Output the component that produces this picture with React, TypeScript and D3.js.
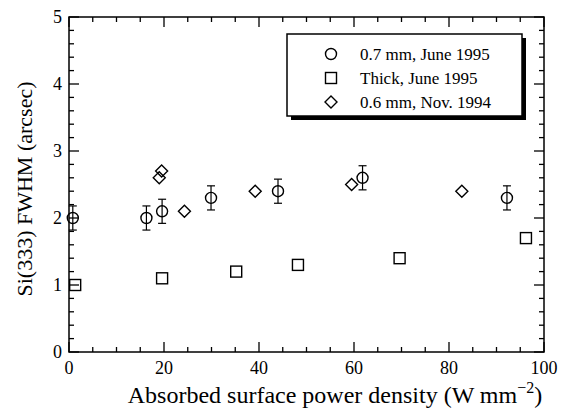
import React from "react";
import * as d3 from "d3";

const circleX = [0.8, 16.3, 19.6, 29.9, 44.0, 61.8, 92.2];
const circleY = [2.0, 2.0, 2.1, 2.3, 2.4, 2.6, 2.3];
const circleErr = [0.18, 0.18, 0.18, 0.18, 0.18, 0.18, 0.18];
const squareX = [1.3, 19.6, 35.2, 48.2, 69.6, 96.2];
const squareY = [1.0, 1.1, 1.2, 1.3, 1.4, 1.7];
const diamondX = [19.0, 19.5, 24.3, 39.2, 59.5, 82.7];
const diamondY = [2.6, 2.7, 2.1, 2.4, 2.5, 2.4];
const xMajor = [0, 20, 40, 60, 80, 100];
const yMajor = [0, 1, 2, 3, 4, 5];
const legendLabels = ["0.7 mm, June 1995", "Thick, June 1995", "0.6 mm, Nov. 1994"];

const W = 562, H = 410;
const L = 69, R = 544, T = 17, B = 352;

function Txt(props: any) {
  const { size, children, ...rest } = props;
  return (
    <text {...rest} style={{ font: `${size}px "Liberation Serif", Tinos, "Times New Roman", serif` }}>
      {children}
    </text>
  );
}

export default function App() {
  const x = d3.scaleLinear().domain([0, 100]).range([L, R]);
  const y = d3.scaleLinear().domain([0, 5]).range([B, T]);
  const xMinor = d3.range(0, 100.001, 5).filter((v) => !xMajor.includes(v));
  const yMinor = d3.range(0, 5.001, 0.2).map((v) => +v.toFixed(1)).filter((v) => !yMajor.includes(v));
  const majLen = 10, minLen = 5;
  const sw = 1.4;
  const r = 5.5;
  const lx0 = 287, ly0 = 34, lw = 235, lh = 82;
  const rows = [54, 78, 102];
  const circle = (cx: number, cy: number, k: string) => (
    <circle key={k} cx={cx} cy={cy} r={r} fill="none" stroke="#000" strokeWidth={sw} />
  );
  const square = (cx: number, cy: number, k: string) => (
    <rect key={k} x={cx - 5.5} y={cy - 5.5} width={11} height={11} fill="none" stroke="#000" strokeWidth={sw} />
  );
  const diamond = (cx: number, cy: number, k: string) => (
    <path key={k} d={`M${cx},${cy - 6}L${cx + 6},${cy}L${cx},${cy + 6}L${cx - 6},${cy}Z`} fill="none" stroke="#000" strokeWidth={sw} />
  );
  return (
    <svg width={W} height={H} style={{ position: "absolute", left: 0, top: 0 }}>
      <Txt x={360} y={60} size={17}>{legendLabels[0]}</Txt>
      <Txt x={360} y={84} size={17}>{legendLabels[1]}</Txt>
      <Txt x={360} y={108} size={17}>{legendLabels[2]}</Txt>
      <rect x={L} y={T} width={R - L} height={B - T} fill="none" stroke="#000" strokeWidth={1.5} />
      {xMajor.map((v) => (
        <g key={"xm" + v}>
          <line x1={x(v)} x2={x(v)} y1={B} y2={B - majLen} stroke="#000" strokeWidth={1.3} />
          <line x1={x(v)} x2={x(v)} y1={T} y2={T + majLen} stroke="#000" strokeWidth={1.3} />
          <Txt x={x(v)} y={374} textAnchor="middle" size={18}>{String(v)}</Txt>
        </g>
      ))}
      {xMinor.map((v) => (
        <g key={"xn" + v}>
          <line x1={x(v)} x2={x(v)} y1={B} y2={B - minLen} stroke="#000" strokeWidth={1.3} />
          <line x1={x(v)} x2={x(v)} y1={T} y2={T + minLen} stroke="#000" strokeWidth={1.3} />
        </g>
      ))}
      {yMajor.map((v) => (
        <g key={"ym" + v}>
          <line x1={L} x2={L + majLen} y1={y(v)} y2={y(v)} stroke="#000" strokeWidth={1.3} />
          <line x1={R} x2={R - majLen} y1={y(v)} y2={y(v)} stroke="#000" strokeWidth={1.3} />
          <Txt x={62} y={y(v) + 6} textAnchor="end" size={18}>{String(v)}</Txt>
        </g>
      ))}
      {yMinor.map((v) => (
        <g key={"yn" + v}>
          <line x1={L} x2={L + minLen} y1={y(v)} y2={y(v)} stroke="#000" strokeWidth={1.3} />
          <line x1={R} x2={R - minLen} y1={y(v)} y2={y(v)} stroke="#000" strokeWidth={1.3} />
        </g>
      ))}
      <Txt x={335} y={403} textAnchor="middle" size={24}>
        Absorbed surface power density (W mm
        <tspan dy={-10} fontSize={16}>−2</tspan>
        <tspan dy={10}>)</tspan>
      </Txt>
      <Txt transform={`translate(32,189) rotate(-90)`} textAnchor="middle" size={22}>
        Si(333) FWHM (arcsec)
      </Txt>
      {circleX.map((v, i) => {
        const cx = x(v);
        const y1 = y(circleY[i] - circleErr[i]);
        const y2 = y(circleY[i] + circleErr[i]);
        return (
          <g key={"e" + i}>
            <line x1={cx} x2={cx} y1={y1} y2={y2} stroke="#000" strokeWidth={1.2} />
            <line x1={cx - 4} x2={cx + 4} y1={y1} y2={y1} stroke="#000" strokeWidth={1.2} />
            <line x1={cx - 4} x2={cx + 4} y1={y2} y2={y2} stroke="#000" strokeWidth={1.2} />
          </g>
        );
      })}
      {circleX.map((v, i) => circle(x(v), y(circleY[i]), "c" + i))}
      {squareX.map((v, i) => square(x(v), y(squareY[i]), "s" + i))}
      {diamondX.map((v, i) => diamond(x(v), y(diamondY[i]), "d" + i))}
      <path d={`M${lx0 + lw},${ly0 + 4}h4v${lh}h${-lw}v-4h${lw - 4}Z`} fill="#000" />
      <rect x={lx0} y={ly0} width={lw} height={lh} fill="none" stroke="#000" strokeWidth={1.5} />
      {circle(331, rows[0], "lc")}
      {square(331, rows[1], "ls")}
      {diamond(331, rows[2], "ld")}
    </svg>
  );
}
